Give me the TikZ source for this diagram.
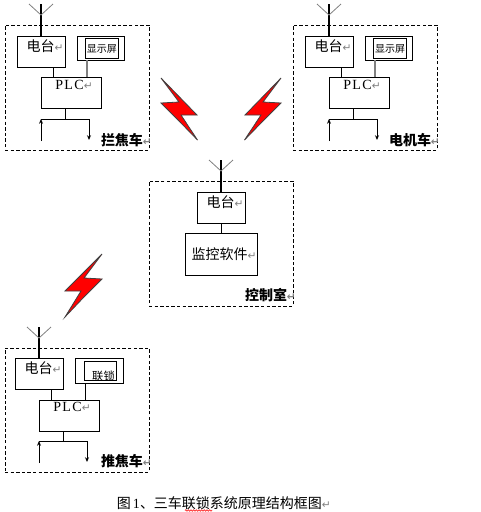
\documentclass[tikz,border=0pt]{standalone}
\usepackage{fontspec}
\setmainfont{Liberation Serif}
\newfontfamily\cjk{Noto Sans CJK SC}
\newfontfamily\symfont{DejaVu Sans}
\newfontfamily\plcfont[LetterSpace=10]{Liberation Serif}
\usetikzlibrary{decorations.pathmorphing,arrows.meta}
\definecolor{retgray}{gray}{0.5}
\definecolor{wiregray}{gray}{0.5}
\newcommand\ret{{\color{retgray}\symfont\fontsize{8}{8}\selectfont ↵}}
\newcommand\fs[1]{\fontsize{#1}{#1}\selectfont}
\tikzset{
  x=0.75pt,y=-0.75pt,
  px/.style 2 args={minimum width=#1*0.75pt,minimum height=#2*0.75pt},
  box/.style={draw=black,line width=0.75pt,fill=white,inner sep=0pt,outer sep=0pt},
  panel/.style={draw=black,line width=0.75pt,dash pattern=on 2.6pt off 1.6pt,inner sep=0pt,outer sep=0pt},
  wire/.style={draw=black,line width=0.75pt},
  graywire/.style={draw=wiregray,line width=1.3pt},
  mast/.style={draw=black,line width=0.8pt},
  prong/.style={draw=wiregray,line width=0.6pt},
  arroww/.style={draw=black,line width=0.75pt,-{Stealth[length=3.6pt,width=3pt]}},
  lbl/.style={inner sep=0pt,outer sep=0pt,text=black},
  bolt/.style={fill=red,draw=black!75,line width=0.6pt,line join=miter},
  big/.style={lbl,font=\cjk\fs{10.5}},
  bigb/.style={lbl,font=\cjk\bfseries\fs{10.5}},
  small/.style={lbl,font=\cjk\fs{7.5}},
  plclbl/.style={lbl,font=\plcfont\fs{10.5}},
}
\begin{document}
\begin{tikzpicture}
\useasboundingbox (0,0) rectangle (480,512);
% lightning
\path[bolt] (161,78) -- (179,102) -- (161,103) -- (179,121) -- (197.5,140) -- (181,115) -- (197,115) -- cycle;
\path[bolt] (281,78) -- (263,102) -- (281,103) -- (263,121) -- (244.5,140) -- (261,115) -- (245,115) -- cycle;
\path[bolt] (102,254) -- (84,278) -- (102,279) -- (84,297) -- (65,317) -- (81,291) -- (65,291) -- cycle;
% vehicle panels 1 and 2
\foreach \pre/\dx/\name in {a-/0/拦焦车,b-/288/电机车}{
\begin{scope}[shift={(\dx,0)},name prefix=\pre]
  \node[panel,px={144}{125}] (panel) at (77,87.5) {};
  \node[box,px={48}{31}] (radio) at (41,51.5) {};
  \node[box,px={47}{24}] (disp) at (100.5,48) {};
  \node[box,px={33}{20}] (screen) at (101.5,48) {};
  \node[box,px={60}{31}] (plc) at (71,92.5) {};
  \node[big] (radiot) at (45,46) {电台\ret};
  \node[small] (screent) at (102,49) {显示屏};
  \node[plclbl] (plct) at (74,85) {PLC\ret};
  \node[bigb,anchor=west] (name) at (101,140) {\name\ret};
  \coordinate (ant) at (41,4);
  \coordinate (antj) at (41,15);
  \coordinate (antl) at (29,4);
  \coordinate (antr) at (53,4);
  \coordinate (j1) at (53,72);
  \coordinate (j2) at (87,72);
  \coordinate (bus) at (65,119);
  \coordinate (busl) at (41,119);
  \coordinate (busr) at (89,119);
  \coordinate (inb) at (41,141);
  \coordinate (outb) at (89,140);
  \draw[mast] (ant) -- (radio.north);
  \draw[prong] (antl) -- (antj) -- (antr);
  \draw[wire] (j1 |- radio.south) -- (j1 |- plc.north);
  \draw[graywire] (j2 |- disp.south) -- (j2 |- plc.north);
  \draw[wire] (bus |- plc.south) -- (bus);
  \draw[wire] (busl) -- (busr);
  \draw[arroww] (inb) -- (busl);
  \draw[arroww] (busr) -- (outb);
\end{scope}}
% control room
\node[panel,px={144}{125}] (cpanel) at (221,243.5) {};
\node[box,px={48}{31}] (cradio) at (221,207.5) {};
\node[box,px={72}{42}] (soft) at (221,254) {};
\node[big] (cradiot) at (225,202) {电台\ret};
\node[big] (softt) at (224,254) {监控软件\ret};
\node[bigb,anchor=west] (cname) at (245,295) {控制室\ret};
\coordinate (cant) at (221,160);
\coordinate (cantj) at (221,171);
\coordinate (cantl) at (209,160);
\coordinate (cantr) at (233,160);
\draw[mast] (cant) -- (cradio.north);
\draw[prong] (cantl) -- (cantj) -- (cantr);
\draw[wire] (cradio.south) -- (soft.north);
% pusher panel
\node[panel,px={144}{124}] (dpanel) at (77,410) {};
\node[box,px={48}{31}] (dradio) at (39,373.5) {};
\node[box,px={48}{25}] (ddisp) at (99,370.5) {};
\node[box,px={32}{19}] (dscreen) at (100,370.5) {};
\node[box,px={60}{31}] (dplc) at (69,415.5) {};
\node[big] (dradiot) at (43,368) {电台\ret};
\node[lbl,font=\cjk\fs{8.5}] (dscreent) at (103.5,376) {联锁};
\node[plclbl] (dplct) at (72,407) {PLC\ret};
\node[bigb,anchor=west] (dname) at (101,461) {推焦车\ret};
\coordinate (dant) at (39,327);
\coordinate (dantj) at (39,338);
\coordinate (dantl) at (27,327);
\coordinate (dantr) at (51,327);
\coordinate (dj1) at (51,395);
\coordinate (dj2) at (85,392);
\coordinate (dbus) at (63,441);
\coordinate (dbusl) at (39,441);
\coordinate (dbusr) at (87,441);
\coordinate (dinb) at (39,463);
\coordinate (doutb) at (87,462);
\draw[mast] (dant) -- (dradio.north);
\draw[prong] (dantl) -- (dantj) -- (dantr);
\draw[wire] (dj1 |- dradio.south) -- (dj1 |- dplc.north);
\draw[wire] (dj2 |- ddisp.south) -- (dj2 |- dplc.north);
\draw[wire] (dbus |- dplc.south) -- (dbus);
\draw[wire] (dbusl) -- (dbusr);
\draw[arroww] (dinb) -- (dbusl);
\draw[arroww] (dbusr) -- (doutb);
% caption
\node[lbl,font=\cjk\fs{10.5},anchor=west] (cap) at (117,503) {图\hspace{1.5pt}{\plcfont 1}、三车联锁系统原理结构框图\ret};
\draw[red,line width=0.4pt,decorate,decoration={zigzag,segment length=2pt,amplitude=0.6pt}] (185,510.5) -- (212,510.5);
\end{tikzpicture}
\end{document}
